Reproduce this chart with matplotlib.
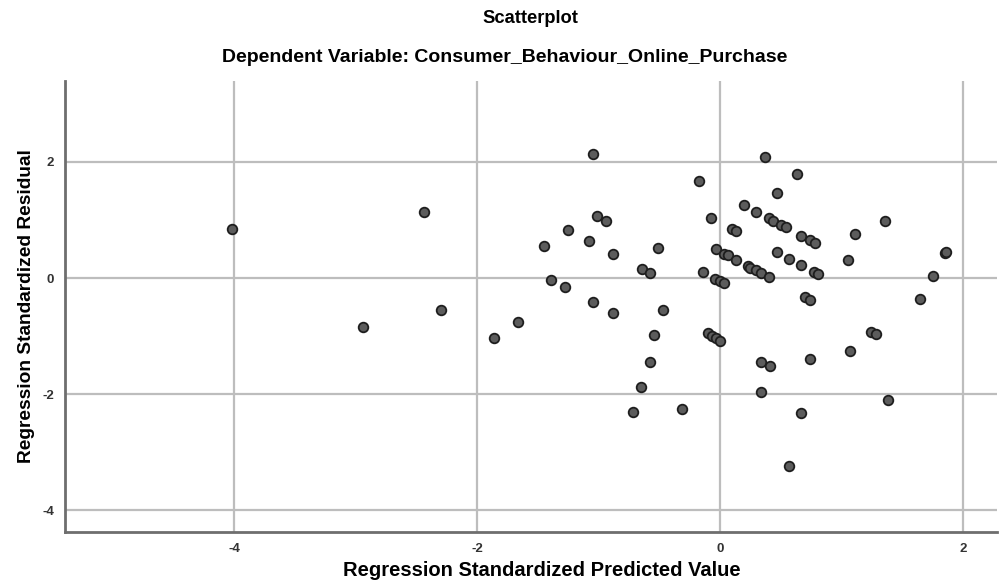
import numpy as np
import matplotlib
matplotlib.use('Agg')
import matplotlib.pyplot as plt

plt.rcParams['font.family'] = ['Liberation Sans', 'DejaVu Sans']
plt.rcParams['axes.unicode_minus'] = False

# %% data
predicted = [-4.02, -2.44, -2.94, -2.30, -1.86, -1.66,
             -1.45, -1.39, -1.28, -1.25, -1.08, -1.05, -1.05, -1.01, -0.94, -0.885, -0.885,
             -0.72, -0.65, -0.64, -0.578, -0.576, -0.54, -0.51, -0.47, -0.31,
             -0.175, -0.14, -0.10, -0.074, -0.066, -0.04, -0.035, -0.035, 0.0, 0.0, 0.03, 0.03,
             0.066, 0.10, 0.135, 0.135, 0.20, 0.23, 0.245, 0.30, 0.30, 0.34, 0.34, 0.34,
             0.37, 0.40, 0.40, 0.41, 0.436, 0.47, 0.47, 0.505, 0.546, 0.57, 0.57,
             0.63, 0.67, 0.67, 0.67, 0.70, 0.74, 0.74, 0.74, 0.78, 0.77, 0.81,
             1.05, 1.07, 1.11, 1.24, 1.28, 1.355, 1.38, 1.65, 1.75, 1.85, 1.86]
residual = [0.84, 1.13, -0.84, -0.55, -1.04, -0.76,
            0.55, -0.04, -0.155, 0.83, 0.64, 2.13, -0.41, 1.07, 0.99, 0.42, -0.60,
            -2.31, -1.88, 0.15, -1.45, 0.08, -0.98, 0.52, -0.545, -2.26,
            1.67, 0.10, -0.95, 1.04, -0.99, -0.01, 0.50, -1.04, -0.05, -1.08, 0.42, -0.09,
            0.39, 0.85, 0.81, 0.31, 1.25, 0.21, 0.18, 1.14, 0.13, 0.09, -1.45, -1.96,
            2.08, 1.03, 0.01, -1.52, 0.99, 1.46, 0.45, 0.91, 0.87, 0.33, -3.24,
            1.79, 0.73, 0.22, -2.33, -0.32, 0.65, -0.37, -1.39, 0.61, 0.10, 0.07,
            0.31, -1.25, 0.75, -0.93, -0.96, 0.99, -2.10, -0.36, 0.03, 0.43, 0.44]

x_ticks = [-4, -2, 0, 2]
y_ticks = [-4, -2, 0, 2]

# %% plot
fig = plt.figure(figsize=(9.99, 5.83), dpi=100)
ax = fig.add_axes([0.0654, 0.0875, 0.9326, 0.7735])

ax.scatter(predicted, residual, s=48, facecolor='#5c5c5c', edgecolor='#1e1e1e',
           linewidth=1.3, zorder=3)

ax.set_xlim(-5.39, 2.28)
ax.set_ylim(-4.37, 3.39)
ax.set_xticks(x_ticks)
ax.set_yticks(y_ticks)
ax.grid(True, color='#bdbdbd', linewidth=1.6, zorder=0)
ax.set_axisbelow(True)
ax.tick_params(length=0, labelsize=9.5, labelcolor='#333333', pad=8)
for lab in ax.get_xticklabels() + ax.get_yticklabels():
    lab.set_fontweight('bold')

for side in ['top', 'right']:
    ax.spines[side].set_visible(False)
for side in ['left', 'bottom']:
    ax.spines[side].set_color('#6e6e6e')
    ax.spines[side].set_linewidth(2)

ax.set_xlabel('Regression Standardized Predicted Value', fontsize=14.5, fontweight='bold')
ax.set_ylabel('Regression Standardized Residual', fontsize=13.8, fontweight='bold',
              labelpad=5)
ax.xaxis.set_label_coords(0.511, -0.064)

fig.text(0.531, 0.968, 'Scatterplot', ha='center', va='center', fontsize=13.2,
         fontweight='bold')
fig.text(0.505, 0.902, 'Dependent Variable: Consumer_Behaviour_Online_Purchase',
         ha='center', va='center', fontsize=14, fontweight='bold')

fig.savefig('out.png', dpi=100)
